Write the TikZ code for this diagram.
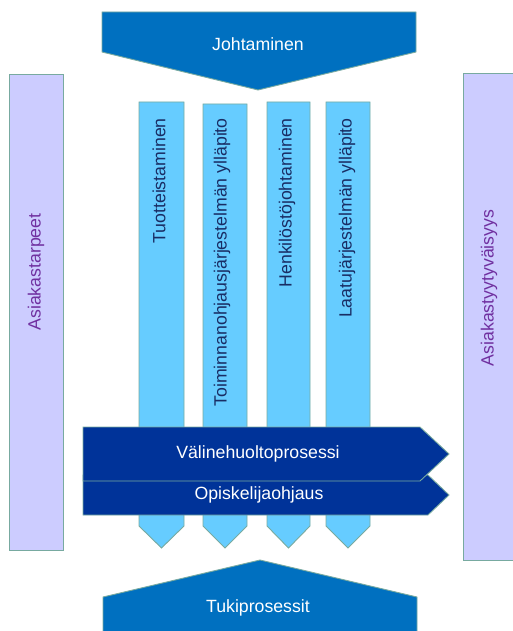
\documentclass[tikz,border=0pt]{standalone}
\usepackage{fontspec}
\setmainfont{Liberation Sans}
\definecolor{topblue}{HTML}{0070C0}
\definecolor{colblue}{HTML}{66CCFF}
\definecolor{darkarrow}{HTML}{003399}
\definecolor{lavender}{HTML}{CCCCFF}
\definecolor{purpletext}{HTML}{7030A0}
\definecolor{edgeteal}{RGB}{120,170,160}
\definecolor{coltext}{RGB}{25,45,100}
\tikzset{
  shapeline/.style={draw=edgeteal, line width=0.9pt, line join=miter},
  lbl/.style={font=\fontsize{17.7}{20}\selectfont, inner sep=0pt},
  whitelbl/.style={lbl, text=white},
  collbl/.style={lbl, text=coltext, rotate=90, anchor=east},
  sidelbl/.style={lbl, text=purpletext, rotate=90},
}
\begin{document}
\begin{tikzpicture}[x=1pt,y=-1pt]
\useasboundingbox (0,0) rectangle (512,631);
% side boxes
\path[shapeline, fill=lavender] (9,74) rectangle (63,550);
\path[shapeline, fill=lavender] (463,73) rectangle (514,560);
\node[sidelbl] (need) at (36,272) {Asiakastarpeet};
\node[sidelbl] (sat) at (489,288) {Asiakastyytyväisyys};
% top chevron
\path[shapeline, fill=topblue] (102,12) -- (416,12) -- (416,52) -- (258,90) -- (102,52) -- cycle;
\node[whitelbl] (lead) at (258,44) {Johtaminen};
% columns
\foreach \xa/\xb/\yt in {139/184/102, 203/247/104, 267/310/102, 326/370/102}{
  \path[shapeline, fill=colblue] (\xa,\yt) -- (\xb,\yt) -- (\xb,526) -- ({(\xa+\xb)/2},548) -- (\xa,526) -- cycle;
}
\node[collbl] (c1) at (159,118) {Tuotteistaminen};
\node[collbl] (c2) at (222,118) {Toiminnanohjausjärjestelmän ylläpito};
\node[collbl] (c3) at (287,118) {Henkilöstöjohtaminen};
\node[collbl] (c4) at (347,118) {Laatujärjestelmän ylläpito};
% horizontal arrows
\path[shapeline, fill=darkarrow] (83,475) -- (428,475) -- (449,495) -- (428,515) -- (83,515) -- cycle;
\path[shapeline, fill=darkarrow] (83,427) -- (420,427) -- (449,454) -- (420,481) -- (83,481) -- cycle;
\node[whitelbl] (h1) at (258,454) {Välinehuoltoprosessi};
\node[whitelbl] (h2) at (259,495) {Opiskelijaohjaus};
% bottom chevron
\path[shapeline, fill=topblue] (103,633) -- (103,597) -- (260,560) -- (417,597) -- (417,633) -- cycle;
\node[whitelbl] (support) at (258,608) {Tukiprosessit};
\end{tikzpicture}
\end{document}
